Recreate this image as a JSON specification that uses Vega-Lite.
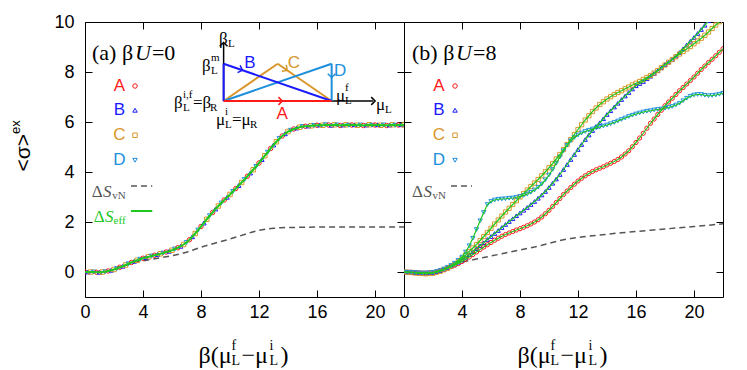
{
"$schema":"https://vega.github.io/schema/vega-lite/v6.json",
"background":"white",
"padding":{"left":9,"top":12,"right":5,"bottom":5},
"autosize":{"type":"pad"},
"bounds":"flush",
"spacing":0,
"datasets":{
"pa":[{"x":0,"s":"A","y":0},{"x":0.2,"s":"B","y":0},{"x":0.4,"s":"C","y":0},{"x":0.6,"s":"D","y":0},{"x":0.8,"s":"A","y":-0.01},{"x":1,"s":"B","y":-0.01},{"x":1.2,"s":"C","y":0},{"x":1.4,"s":"D","y":0.01},{"x":1.6,"s":"A","y":0.04},{"x":1.8,"s":"B","y":0.07},{"x":2,"s":"C","y":0.1},{"x":2.2,"s":"D","y":0.14},{"x":2.4,"s":"A","y":0.19},{"x":2.6,"s":"B","y":0.23},{"x":2.8,"s":"C","y":0.28},{"x":3,"s":"D","y":0.33},{"x":3.2,"s":"A","y":0.38},{"x":3.4,"s":"B","y":0.43},{"x":3.6,"s":"C","y":0.47},{"x":3.8,"s":"D","y":0.51},{"x":4,"s":"A","y":0.55},{"x":4.2,"s":"B","y":0.58},{"x":4.4,"s":"C","y":0.61},{"x":4.6,"s":"D","y":0.64},{"x":4.8,"s":"A","y":0.67},{"x":5,"s":"B","y":0.7},{"x":5.2,"s":"C","y":0.73},{"x":5.4,"s":"D","y":0.76},{"x":5.6,"s":"A","y":0.8},{"x":5.8,"s":"B","y":0.83},{"x":6,"s":"C","y":0.87},{"x":6.2,"s":"D","y":0.92},{"x":6.4,"s":"A","y":0.97},{"x":6.6,"s":"B","y":1.03},{"x":6.8,"s":"C","y":1.1},{"x":7,"s":"D","y":1.18},{"x":7.2,"s":"A","y":1.29},{"x":7.4,"s":"B","y":1.41},{"x":7.6,"s":"C","y":1.54},{"x":7.8,"s":"D","y":1.68},{"x":8,"s":"A","y":1.82},{"x":8.2,"s":"B","y":1.96},{"x":8.4,"s":"C","y":2.11},{"x":8.6,"s":"D","y":2.25},{"x":8.8,"s":"A","y":2.38},{"x":9,"s":"B","y":2.52},{"x":9.2,"s":"C","y":2.64},{"x":9.4,"s":"D","y":2.76},{"x":9.6,"s":"A","y":2.88},{"x":9.8,"s":"B","y":2.99},{"x":10,"s":"C","y":3.1},{"x":10.2,"s":"D","y":3.22},{"x":10.4,"s":"A","y":3.34},{"x":10.6,"s":"B","y":3.46},{"x":10.8,"s":"C","y":3.58},{"x":11,"s":"D","y":3.7},{"x":11.2,"s":"A","y":3.83},{"x":11.4,"s":"B","y":3.96},{"x":11.6,"s":"C","y":4.09},{"x":11.8,"s":"D","y":4.22},{"x":12,"s":"A","y":4.36},{"x":12.2,"s":"B","y":4.5},{"x":12.4,"s":"C","y":4.65},{"x":12.6,"s":"D","y":4.79},{"x":12.8,"s":"A","y":4.94},{"x":13,"s":"B","y":5.08},{"x":13.2,"s":"C","y":5.21},{"x":13.4,"s":"D","y":5.34},{"x":13.6,"s":"A","y":5.44},{"x":13.8,"s":"B","y":5.53},{"x":14,"s":"C","y":5.62},{"x":14.2,"s":"D","y":5.67},{"x":14.4,"s":"A","y":5.72},{"x":14.6,"s":"B","y":5.76},{"x":14.8,"s":"C","y":5.79},{"x":15,"s":"D","y":5.82},{"x":15.2,"s":"A","y":5.83},{"x":15.4,"s":"B","y":5.84},{"x":15.6,"s":"C","y":5.85},{"x":15.8,"s":"D","y":5.86},{"x":16,"s":"A","y":5.87},{"x":16.2,"s":"B","y":5.88},{"x":16.4,"s":"C","y":5.87},{"x":16.6,"s":"D","y":5.89},{"x":16.8,"s":"A","y":5.88},{"x":17,"s":"B","y":5.87},{"x":17.2,"s":"C","y":5.89},{"x":17.4,"s":"D","y":5.88},{"x":17.6,"s":"A","y":5.86},{"x":17.8,"s":"B","y":5.88},{"x":18,"s":"C","y":5.89},{"x":18.2,"s":"D","y":5.87},{"x":18.4,"s":"A","y":5.88},{"x":18.6,"s":"B","y":5.89},{"x":18.8,"s":"C","y":5.87},{"x":19,"s":"D","y":5.88},{"x":19.2,"s":"A","y":5.86},{"x":19.4,"s":"B","y":5.88},{"x":19.6,"s":"C","y":5.89},{"x":19.8,"s":"D","y":5.87},{"x":20,"s":"A","y":5.88},{"x":20.2,"s":"B","y":5.89},{"x":20.4,"s":"C","y":5.87},{"x":20.6,"s":"D","y":5.88},{"x":20.8,"s":"A","y":5.86},{"x":21,"s":"B","y":5.88},{"x":21.2,"s":"C","y":5.89},{"x":21.4,"s":"D","y":5.87},{"x":21.6,"s":"A","y":5.88},{"x":21.8,"s":"B","y":5.89},{"x":22,"s":"C","y":5.88}],
"va":[{"x":0,"y":0},{"x":0.5,"y":0},{"x":1,"y":0},{"x":1.5,"y":0.03},{"x":2,"y":0.1},{"x":2.5,"y":0.2},{"x":3,"y":0.3},{"x":3.5,"y":0.39},{"x":4,"y":0.45},{"x":4.5,"y":0.5},{"x":5,"y":0.55},{"x":5.5,"y":0.6},{"x":6,"y":0.65},{"x":6.5,"y":0.71},{"x":7,"y":0.79},{"x":7.5,"y":0.89},{"x":8,"y":0.99},{"x":8.5,"y":1.08},{"x":9,"y":1.16},{"x":9.5,"y":1.24},{"x":10,"y":1.32},{"x":10.5,"y":1.41},{"x":11,"y":1.5},{"x":11.5,"y":1.59},{"x":12,"y":1.67},{"x":12.5,"y":1.72},{"x":13,"y":1.75},{"x":13.5,"y":1.77},{"x":14,"y":1.78},{"x":15,"y":1.79},{"x":16,"y":1.8},{"x":18,"y":1.8},{"x":20,"y":1.8},{"x":22,"y":1.8}],
"vb":[{"x":0,"y":0},{"x":0.5,"y":0},{"x":1,"y":-0.02},{"x":1.5,"y":-0.02},{"x":2,"y":0.02},{"x":2.5,"y":0.1},{"x":3,"y":0.2},{"x":3.5,"y":0.3},{"x":4,"y":0.4},{"x":4.5,"y":0.46},{"x":5,"y":0.52},{"x":5.5,"y":0.58},{"x":6,"y":0.64},{"x":7,"y":0.76},{"x":8,"y":0.88},{"x":9,"y":1.0},{"x":9.5,"y":1.07},{"x":10,"y":1.15},{"x":10.5,"y":1.22},{"x":11,"y":1.29},{"x":11.5,"y":1.34},{"x":12,"y":1.38},{"x":13,"y":1.45},{"x":14,"y":1.51},{"x":15,"y":1.57},{"x":16,"y":1.62},{"x":17,"y":1.67},{"x":18,"y":1.72},{"x":19,"y":1.77},{"x":20,"y":1.82},{"x":21,"y":1.87},{"x":22,"y":1.93}],
"pb":[{"x":0,"A":0,"B":0,"C":0,"D":0},{"x":0.25,"A":-0.01,"B":-0.01,"C":-0.01,"D":-0.01},{"x":0.5,"A":-0.01,"B":-0.01,"C":-0.02,"D":-0.01},{"x":0.75,"A":-0.02,"B":-0.02,"C":-0.04,"D":-0.02},{"x":1,"A":-0.03,"B":-0.03,"C":-0.05,"D":-0.03},{"x":1.25,"A":-0.04,"B":-0.04,"C":-0.06,"D":-0.04},{"x":1.5,"A":-0.04,"B":-0.04,"C":-0.07,"D":-0.04},{"x":1.75,"A":-0.03,"B":-0.03,"C":-0.06,"D":-0.03},{"x":2,"A":-0.02,"B":-0.02,"C":-0.05,"D":-0.02},{"x":2.25,"A":0.01,"B":0.01,"C":-0.01,"D":0.02},{"x":2.5,"A":0.05,"B":0.05,"C":0.03,"D":0.06},{"x":2.75,"A":0.1,"B":0.1,"C":0.09,"D":0.12},{"x":3,"A":0.15,"B":0.16,"C":0.15,"D":0.18},{"x":3.25,"A":0.21,"B":0.23,"C":0.23,"D":0.26},{"x":3.5,"A":0.27,"B":0.3,"C":0.32,"D":0.35},{"x":3.75,"A":0.34,"B":0.39,"C":0.43,"D":0.47},{"x":4,"A":0.42,"B":0.48,"C":0.55,"D":0.6},{"x":4.25,"A":0.51,"B":0.59,"C":0.68,"D":0.8},{"x":4.5,"A":0.6,"B":0.7,"C":0.82,"D":1.05},{"x":4.75,"A":0.7,"B":0.81,"C":0.96,"D":1.35},{"x":5,"A":0.8,"B":0.93,"C":1.1,"D":1.7},{"x":5.25,"A":0.9,"B":1.05,"C":1.26,"D":2.05},{"x":5.5,"A":1.0,"B":1.17,"C":1.42,"D":2.38},{"x":5.75,"A":1.09,"B":1.3,"C":1.58,"D":2.7},{"x":6,"A":1.18,"B":1.42,"C":1.75,"D":2.82},{"x":6.25,"A":1.27,"B":1.54,"C":1.92,"D":2.88},{"x":6.5,"A":1.35,"B":1.66,"C":2.08,"D":2.91},{"x":6.75,"A":1.43,"B":1.78,"C":2.24,"D":2.92},{"x":7,"A":1.5,"B":1.9,"C":2.4,"D":2.93},{"x":7.25,"A":1.56,"B":2.02,"C":2.55,"D":2.95},{"x":7.5,"A":1.62,"B":2.13,"C":2.7,"D":2.96},{"x":7.75,"A":1.68,"B":2.25,"C":2.85,"D":2.99},{"x":8,"A":1.73,"B":2.36,"C":3.0,"D":3.02},{"x":8.25,"A":1.79,"B":2.47,"C":3.14,"D":3.06},{"x":8.5,"A":1.85,"B":2.58,"C":3.28,"D":3.12},{"x":8.75,"A":1.92,"B":2.7,"C":3.42,"D":3.19},{"x":9,"A":2.0,"B":2.82,"C":3.56,"D":3.28},{"x":9.25,"A":2.09,"B":2.95,"C":3.7,"D":3.39},{"x":9.5,"A":2.2,"B":3.08,"C":3.85,"D":3.52},{"x":9.75,"A":2.33,"B":3.22,"C":4.01,"D":3.69},{"x":10,"A":2.47,"B":3.38,"C":4.17,"D":3.88},{"x":10.25,"A":2.62,"B":3.55,"C":4.34,"D":4.1},{"x":10.5,"A":2.78,"B":3.72,"C":4.52,"D":4.35},{"x":10.75,"A":2.94,"B":3.9,"C":4.7,"D":4.6},{"x":11,"A":3.1,"B":4.1,"C":4.9,"D":4.85},{"x":11.25,"A":3.24,"B":4.3,"C":5.1,"D":5.07},{"x":11.5,"A":3.38,"B":4.5,"C":5.3,"D":5.25},{"x":11.75,"A":3.51,"B":4.7,"C":5.5,"D":5.38},{"x":12,"A":3.64,"B":4.9,"C":5.7,"D":5.48},{"x":12.25,"A":3.75,"B":5.1,"C":5.89,"D":5.56},{"x":12.5,"A":3.85,"B":5.3,"C":6.08,"D":5.62},{"x":12.75,"A":3.94,"B":5.48,"C":6.25,"D":5.67},{"x":13,"A":4.02,"B":5.66,"C":6.42,"D":5.72},{"x":13.25,"A":4.09,"B":5.82,"C":6.56,"D":5.76},{"x":13.5,"A":4.15,"B":5.97,"C":6.7,"D":5.8},{"x":13.75,"A":4.21,"B":6.13,"C":6.81,"D":5.84},{"x":14,"A":4.28,"B":6.3,"C":6.92,"D":5.88},{"x":14.25,"A":4.35,"B":6.45,"C":7.01,"D":5.93},{"x":14.5,"A":4.42,"B":6.6,"C":7.1,"D":5.98},{"x":14.75,"A":4.5,"B":6.75,"C":7.18,"D":6.04},{"x":15,"A":4.6,"B":6.9,"C":7.25,"D":6.1},{"x":15.25,"A":4.72,"B":7.04,"C":7.33,"D":6.16},{"x":15.5,"A":4.85,"B":7.18,"C":7.4,"D":6.22},{"x":15.75,"A":5.01,"B":7.32,"C":7.48,"D":6.27},{"x":16,"A":5.18,"B":7.45,"C":7.55,"D":6.32},{"x":16.25,"A":5.36,"B":7.54,"C":7.62,"D":6.36},{"x":16.5,"A":5.55,"B":7.62,"C":7.7,"D":6.4},{"x":16.75,"A":5.75,"B":7.73,"C":7.78,"D":6.43},{"x":17,"A":5.95,"B":7.83,"C":7.86,"D":6.45},{"x":17.25,"A":6.12,"B":7.94,"C":7.96,"D":6.48},{"x":17.5,"A":6.3,"B":8.05,"C":8.06,"D":6.5},{"x":17.75,"A":6.47,"B":8.17,"C":8.17,"D":6.52},{"x":18,"A":6.65,"B":8.3,"C":8.28,"D":6.55},{"x":18.25,"A":6.8,"B":8.4,"C":8.39,"D":6.58},{"x":18.5,"A":6.95,"B":8.5,"C":8.5,"D":6.62},{"x":18.75,"A":7.1,"B":8.64,"C":8.61,"D":6.68},{"x":19,"A":7.25,"B":8.78,"C":8.72,"D":6.75},{"x":19.25,"A":7.38,"B":8.93,"C":8.82,"D":6.85},{"x":19.5,"A":7.52,"B":9.08,"C":8.92,"D":6.95},{"x":19.75,"A":7.66,"B":9.23,"C":9.02,"D":7.03},{"x":20,"A":7.8,"B":9.38,"C":9.13,"D":7.08},{"x":20.25,"A":7.95,"B":9.54,"C":9.24,"D":7.1},{"x":20.5,"A":8.1,"B":9.7,"C":9.35,"D":7.1},{"x":20.75,"A":8.24,"B":9.87,"C":9.47,"D":7.07},{"x":21,"A":8.38,"B":10.05,"C":9.6,"D":7.05},{"x":21.25,"A":8.51,"B":null,"C":9.74,"D":7.06},{"x":21.5,"A":8.65,"B":null,"C":9.88,"D":7.08},{"x":21.75,"A":8.79,"B":null,"C":10.01,"D":7.11},{"x":22,"A":8.93,"B":null,"C":10.15,"D":7.15}]
},
"hconcat":[
{
"width":319,"height":275,
"data":{"values":[{}]},
"resolve":{"axis":{"x":"independent","y":"independent"}},
"layer":[
{"layer":[
{"data":{"name":"va"},"mark":{"type":"line","color":"#555555","strokeDash":[6,4],"strokeWidth":1.5,"clip":true},
 "encoding":{"x":{"field":"x","type":"quantitative","scale":{"domain":[0,22],"nice":false,"zero":false},"axis":{"orient":"bottom","values":[0,4,8,12,16,20],"title":null}},
 "y":{"field":"y","type":"quantitative","scale":{"domain":[-1,10],"nice":false,"zero":false},"axis":{"orient":"left","values":[0,2,4,6,8,10],"title":null}}}},
{"data":{"name":"pa"},"mark":{"type":"point","filled":false,"size":20,"strokeWidth":1,"opacity":1,"clip":true},
 "encoding":{"x":{"field":"x","type":"quantitative"},"y":{"field":"y","type":"quantitative"},
 "color":{"field":"s","type":"nominal","scale":{"domain":["A","B","C","D"],"range":["#ff1a1a","#1a1aff","#d9962b","#1e8fdb"]},"legend":null},
 "shape":{"field":"s","type":"nominal","scale":{"domain":["A","B","C","D"],"range":["circle","triangle-up","square","triangle-down"]},"legend":null}}},
{"data":{"name":"pa"},"mark":{"type":"line","color":"#1ec81e","strokeWidth":2,"clip":true},"encoding":{"x":{"field":"x","type":"quantitative"},"y":{"field":"y","type":"quantitative"}}},

{"mark":{"type":"rule","color":"black","strokeWidth":1.5},"encoding":{"x":{"datum":9.56},"y":{"datum":6.84},"y2":{"datum":9.12}}},
{"mark":{"type":"rule","color":"black","strokeWidth":1.5},"encoding":{"x":{"datum":9.56},"x2":{"datum":19.88},"y":{"datum":6.84}}},
{"mark":{"type":"rule","color":"#d9962b","strokeWidth":2},"encoding":{"x":{"datum":9.56},"y":{"datum":6.84},"x2":{"datum":13.29},"y2":{"datum":8.33}}},
{"mark":{"type":"rule","color":"#d9962b","strokeWidth":2},"encoding":{"x":{"datum":13.29},"y":{"datum":8.33},"x2":{"datum":17.01},"y2":{"datum":6.84}}},
{"mark":{"type":"rule","color":"#1e8fdb","strokeWidth":2},"encoding":{"x":{"datum":9.56},"y":{"datum":6.84},"x2":{"datum":17.01},"y2":{"datum":8.33}}},
{"mark":{"type":"rule","color":"#1e8fdb","strokeWidth":2},"encoding":{"x":{"datum":17.01},"y":{"datum":8.33},"y2":{"datum":6.84}}},
{"mark":{"type":"rule","color":"#1a1aff","strokeWidth":2},"encoding":{"x":{"datum":9.56},"y":{"datum":6.84},"y2":{"datum":8.33}}},
{"mark":{"type":"rule","color":"#1a1aff","strokeWidth":2},"encoding":{"x":{"datum":9.56},"y":{"datum":8.33},"x2":{"datum":17.01},"y2":{"datum":6.84}}},
{"mark":{"type":"rule","color":"#ff1a1a","strokeWidth":2},"encoding":{"x":{"datum":9.56},"x2":{"datum":17.01},"y":{"datum":6.84}}},
{"mark":{"type":"point","shape":"M-0.6,-1L0.4,0L-0.6,1","filled":false,"size":60,"strokeWidth":1.5,"color":"black","opacity":1,"angle":270},"encoding":{"x":{"datum":9.56},"y":{"datum":9.12}}},
{"mark":{"type":"point","shape":"M-0.6,-1L0.4,0L-0.6,1","filled":false,"size":60,"strokeWidth":1.5,"color":"black","opacity":1,"angle":0},"encoding":{"x":{"datum":19.9},"y":{"datum":6.84}}},
{"mark":{"type":"point","shape":"M-0.6,-1L0.4,0L-0.6,1","filled":false,"size":60,"strokeWidth":1.5,"color":"#ff1a1a","opacity":1,"angle":0},"encoding":{"x":{"datum":13.5},"y":{"datum":6.84}}},
{"mark":{"type":"point","shape":"M-0.6,-1L0.4,0L-0.6,1","filled":false,"size":60,"strokeWidth":1.5,"color":"#1a1aff","opacity":1,"angle":19},"encoding":{"x":{"datum":10.76},"y":{"datum":8.09}}},
{"mark":{"type":"point","shape":"M-0.6,-1L0.4,0L-0.6,1","filled":false,"size":60,"strokeWidth":1.5,"color":"#d9962b","opacity":1,"angle":35},"encoding":{"x":{"datum":13.86},"y":{"datum":8.1}}},
{"mark":{"type":"point","shape":"M-0.6,-1L0.4,0L-0.6,1","filled":false,"size":60,"strokeWidth":1.5,"color":"#1e8fdb","opacity":1,"angle":90},"encoding":{"x":{"datum":17.01},"y":{"datum":7.84}}},

{"mark":{"type":"text","text":"β","font":"Liberation Serif","fontSize":17,"align":"left","color":"black"},"encoding":{"x":{"datum":9.24},"y":{"datum":9.32}}},
{"mark":{"type":"text","text":"L","font":"Liberation Serif","fontSize":11,"align":"left","dx":9,"dy":5,"color":"black"},"encoding":{"x":{"datum":9.24},"y":{"datum":9.32}}},
{"mark":{"type":"text","text":"β","font":"Liberation Serif","fontSize":17,"align":"left","color":"black"},"encoding":{"x":{"datum":8.07},"y":{"datum":8.24}}},
{"mark":{"type":"text","text":"m","font":"Liberation Serif","fontSize":11,"align":"left","dx":9,"dy":-8,"color":"black"},"encoding":{"x":{"datum":8.07},"y":{"datum":8.24}}},
{"mark":{"type":"text","text":"L","font":"Liberation Serif","fontSize":11,"align":"left","dx":9,"dy":5,"color":"black"},"encoding":{"x":{"datum":8.07},"y":{"datum":8.24}}},
{"mark":{"type":"text","text":"β","font":"Liberation Serif","fontSize":17,"align":"left","color":"black"},"encoding":{"x":{"datum":6.14},"y":{"datum":6.78}}},
{"mark":{"type":"text","text":"i,f","font":"Liberation Serif","fontSize":11,"align":"left","dx":9,"dy":-8,"color":"black"},"encoding":{"x":{"datum":6.14},"y":{"datum":6.78}}},
{"mark":{"type":"text","text":"L","font":"Liberation Serif","fontSize":11,"align":"left","dx":9,"dy":5,"color":"black"},"encoding":{"x":{"datum":6.14},"y":{"datum":6.78}}},
{"mark":{"type":"text","text":"=β","font":"Liberation Serif","fontSize":17,"align":"left","dx":19,"color":"black"},"encoding":{"x":{"datum":6.14},"y":{"datum":6.78}}},
{"mark":{"type":"text","text":"R","font":"Liberation Serif","fontSize":11,"align":"left","dx":36,"dy":5,"color":"black"},"encoding":{"x":{"datum":6.14},"y":{"datum":6.78}}},
{"mark":{"type":"text","text":"μ","font":"Liberation Serif","fontSize":17,"align":"left","color":"black"},"encoding":{"x":{"datum":9.03},"y":{"datum":6.08}}},
{"mark":{"type":"text","text":"i","font":"Liberation Serif","fontSize":11,"align":"left","dx":9,"dy":-8,"color":"black"},"encoding":{"x":{"datum":9.03},"y":{"datum":6.08}}},
{"mark":{"type":"text","text":"L","font":"Liberation Serif","fontSize":11,"align":"left","dx":9,"dy":5,"color":"black"},"encoding":{"x":{"datum":9.03},"y":{"datum":6.08}}},
{"mark":{"type":"text","text":"=μ","font":"Liberation Serif","fontSize":17,"align":"left","dx":16,"color":"black"},"encoding":{"x":{"datum":9.03},"y":{"datum":6.08}}},
{"mark":{"type":"text","text":"R","font":"Liberation Serif","fontSize":11,"align":"left","dx":34,"dy":5,"color":"black"},"encoding":{"x":{"datum":9.03},"y":{"datum":6.08}}},
{"mark":{"type":"text","text":"μ","font":"Liberation Serif","fontSize":17,"align":"left","color":"black"},"encoding":{"x":{"datum":17.31},"y":{"datum":7.04}}},
{"mark":{"type":"text","text":"f","font":"Liberation Serif","fontSize":11,"align":"left","dx":9,"dy":-8,"color":"black"},"encoding":{"x":{"datum":17.31},"y":{"datum":7.04}}},
{"mark":{"type":"text","text":"L","font":"Liberation Serif","fontSize":11,"align":"left","dx":9,"dy":5,"color":"black"},"encoding":{"x":{"datum":17.31},"y":{"datum":7.04}}},
{"mark":{"type":"text","text":"μ","font":"Liberation Serif","fontSize":17,"align":"left","color":"black"},"encoding":{"x":{"datum":20.07},"y":{"datum":6.68}}},
{"mark":{"type":"text","text":"L","font":"Liberation Serif","fontSize":11,"align":"left","dx":9,"dy":5,"color":"black"},"encoding":{"x":{"datum":20.07},"y":{"datum":6.68}}},
{"mark":{"type":"text","text":"A","font":"Liberation Sans","fontSize":17,"align":"center","baseline":"middle","color":"#ff1a1a"},"encoding":{"x":{"datum":13.59},"y":{"datum":6.34}}},
{"mark":{"type":"text","text":"B","font":"Liberation Sans","fontSize":17,"align":"center","baseline":"middle","color":"#1a1aff"},"encoding":{"x":{"datum":11.38},"y":{"datum":8.38}}},
{"mark":{"type":"text","text":"C","font":"Liberation Sans","fontSize":17,"align":"center","baseline":"middle","color":"#d9962b"},"encoding":{"x":{"datum":14.41},"y":{"datum":8.36}}},
{"mark":{"type":"text","text":"D","font":"Liberation Sans","fontSize":17,"align":"center","baseline":"middle","color":"#1e8fdb"},"encoding":{"x":{"datum":17.59},"y":{"datum":8.06}}},

{"mark":{"type":"text","text":"A","font":"Liberation Sans","fontSize":17,"align":"center","baseline":"middle","color":"#ff1a1a"},"encoding":{"x":{"datum":2.38},"y":{"datum":7.44}}},
{"mark":{"type":"point","shape":"circle","filled":false,"size":20,"strokeWidth":1,"color":"#ff1a1a","opacity":1},"encoding":{"x":{"datum":3.45},"y":{"datum":7.44}}},
{"mark":{"type":"text","text":"B","font":"Liberation Sans","fontSize":17,"align":"center","baseline":"middle","color":"#1a1aff"},"encoding":{"x":{"datum":2.38},"y":{"datum":6.47}}},
{"mark":{"type":"point","shape":"triangle-up","filled":false,"size":20,"strokeWidth":1,"color":"#1a1aff","opacity":1},"encoding":{"x":{"datum":3.45},"y":{"datum":6.47}}},
{"mark":{"type":"text","text":"C","font":"Liberation Sans","fontSize":17,"align":"center","baseline":"middle","color":"#d9962b"},"encoding":{"x":{"datum":2.38},"y":{"datum":5.47}}},
{"mark":{"type":"point","shape":"square","filled":false,"size":20,"strokeWidth":1,"color":"#d9962b","opacity":1},"encoding":{"x":{"datum":3.45},"y":{"datum":5.47}}},
{"mark":{"type":"text","text":"D","font":"Liberation Sans","fontSize":17,"align":"center","baseline":"middle","color":"#1e8fdb"},"encoding":{"x":{"datum":2.38},"y":{"datum":4.47}}},
{"mark":{"type":"point","shape":"triangle-down","filled":false,"size":20,"strokeWidth":1,"color":"#1e8fdb","opacity":1},"encoding":{"x":{"datum":3.45},"y":{"datum":4.47}}},
{"mark":{"type":"text","text":"vN","font":"Liberation Serif","fontSize":11,"align":"right","dy":4,"color":"#555555"},"encoding":{"x":{"datum":2.8},"y":{"datum":3.2}}},
{"mark":{"type":"text","text":"S","font":"Liberation Serif","fontStyle":"italic","fontSize":17,"align":"right","dx":-14,"color":"#555555"},"encoding":{"x":{"datum":2.8},"y":{"datum":3.2}}},
{"mark":{"type":"text","text":"Δ","font":"Liberation Serif","fontSize":17,"align":"right","dx":-23,"color":"#555555"},"encoding":{"x":{"datum":2.8},"y":{"datum":3.2}}},
{"mark":{"type":"rule","color":"#555555","strokeDash":[6,4],"strokeWidth":1.5},"encoding":{"x":{"datum":3.17},"x2":{"datum":4.64},"y":{"datum":3.44}}},
{"mark":{"type":"text","text":"eff","font":"Liberation Serif","fontSize":11,"align":"right","dy":4,"color":"#1ec81e"},"encoding":{"x":{"datum":2.8},"y":{"datum":2.2}}},
{"mark":{"type":"text","text":"S","font":"Liberation Serif","fontStyle":"italic","fontSize":17,"align":"right","dx":-12,"color":"#1ec81e"},"encoding":{"x":{"datum":2.8},"y":{"datum":2.2}}},
{"mark":{"type":"text","text":"Δ","font":"Liberation Serif","fontSize":17,"align":"right","dx":-21,"color":"#1ec81e"},"encoding":{"x":{"datum":2.8},"y":{"datum":2.2}}},
{"mark":{"type":"rule","color":"#1ec81e","strokeWidth":2},"encoding":{"x":{"datum":3.17},"x2":{"datum":4.64},"y":{"datum":2.44}}},

{"mark":{"type":"text","text":"(a) β","font":"Liberation Serif","fontSize":22,"align":"left","color":"black"},"encoding":{"x":{"datum":0.48},"y":{"datum":8.76}}},
{"mark":{"type":"text","text":"U","font":"Liberation Serif","fontStyle":"italic","fontSize":22,"align":"left","dx":43,"color":"black"},"encoding":{"x":{"datum":0.48},"y":{"datum":8.76}}},
{"mark":{"type":"text","text":"=0","font":"Liberation Serif","fontSize":22,"align":"left","dx":60,"color":"black"},"encoding":{"x":{"datum":0.48},"y":{"datum":8.76}}},

{"mark":{"type":"text","text":"β(μ","font":"Liberation Serif","fontSize":24,"align":"left","dx":-46,"color":"black"},"encoding":{"x":{"datum":11},"y":{"datum":-3.36}}},
{"mark":{"type":"text","text":"f","font":"Liberation Serif","fontSize":14,"align":"left","dx":-13,"dy":-10,"color":"black"},"encoding":{"x":{"datum":11},"y":{"datum":-3.36}}},
{"mark":{"type":"text","text":"L","font":"Liberation Serif","fontSize":14,"align":"left","dx":-13,"dy":5,"color":"black"},"encoding":{"x":{"datum":11},"y":{"datum":-3.36}}},
{"mark":{"type":"text","text":"−μ","font":"Liberation Serif","fontSize":24,"align":"left","dx":-3,"color":"black"},"encoding":{"x":{"datum":11},"y":{"datum":-3.36}}},
{"mark":{"type":"text","text":"i","font":"Liberation Serif","fontSize":14,"align":"left","dx":25,"dy":-10,"color":"black"},"encoding":{"x":{"datum":11},"y":{"datum":-3.36}}},
{"mark":{"type":"text","text":"L","font":"Liberation Serif","fontSize":14,"align":"left","dx":25,"dy":5,"color":"black"},"encoding":{"x":{"datum":11},"y":{"datum":-3.36}}},
{"mark":{"type":"text","text":")","font":"Liberation Serif","fontSize":24,"align":"left","dx":36,"color":"black"},"encoding":{"x":{"datum":11},"y":{"datum":-3.36}}},

{"mark":{"type":"text","text":"<σ>","font":"Liberation Sans","fontSize":21,"align":"right","baseline":"middle","angle":270,"color":"black"},"encoding":{"x":{"datum":-4.21},"y":{"datum":5.52}}},
{"mark":{"type":"text","text":"ex","font":"Liberation Sans","fontSize":13,"align":"left","baseline":"middle","angle":270,"dy":-8,"color":"black"},"encoding":{"x":{"datum":-4.21},"y":{"datum":5.52}}}
]},
{"mark":{"type":"point","opacity":0},"encoding":{"x":{"datum":0,"type":"quantitative","axis":{"orient":"top","values":[0,4,8,12,16,20],"labels":false,"title":null}},"y":{"datum":0,"type":"quantitative","axis":{"orient":"right","values":[0,2,4,6,8,10],"labels":false,"title":null}}}}
]
},
{
"width":319,"height":275,
"data":{"values":[{}]},
"resolve":{"axis":{"x":"independent","y":"independent"}},
"layer":[
{"layer":[
{"data":{"name":"vb"},"mark":{"type":"line","color":"#555555","strokeDash":[6,4],"strokeWidth":1.5,"clip":true},
 "encoding":{"x":{"field":"x","type":"quantitative","scale":{"domain":[0,22],"nice":false,"zero":false},"axis":{"orient":"bottom","values":[0,4,8,12,16,20],"title":null}},
 "y":{"field":"y","type":"quantitative","scale":{"domain":[-1,10],"nice":false,"zero":false},"axis":{"orient":"left","values":[0,2,4,6,8,10],"labels":false,"title":null}}}},
{"data":{"name":"pb"},"transform":[{"fold":["A","B","C","D"],"as":["s","y"]},{"filter":"isValid(datum.y)"}],"mark":{"type":"point","filled":false,"size":18,"strokeWidth":1,"opacity":1,"clip":true},
 "encoding":{"x":{"field":"x","type":"quantitative"},"y":{"field":"y","type":"quantitative"},
 "color":{"field":"s","type":"nominal","scale":{"domain":["A","B","C","D"],"range":["#ff1a1a","#1a1aff","#d9962b","#1e8fdb"]},"legend":null},
 "shape":{"field":"s","type":"nominal","scale":{"domain":["A","B","C","D"],"range":["circle","triangle-up","square","triangle-down"]},"legend":null}}},
{"data":{"name":"pb"},"transform":[{"fold":["A","B","C","D"],"as":["s","y"]},{"filter":"isValid(datum.y)"}],"mark":{"type":"line","color":"#1ec81e","strokeWidth":1.2,"clip":true},"encoding":{"x":{"field":"x","type":"quantitative"},"y":{"field":"y","type":"quantitative"},"detail":{"field":"s","type":"nominal"}}},

{"mark":{"type":"text","text":"A","font":"Liberation Sans","fontSize":17,"align":"center","baseline":"middle","color":"#ff1a1a"},"encoding":{"x":{"datum":2.41},"y":{"datum":7.44}}},
{"mark":{"type":"point","shape":"circle","filled":false,"size":20,"strokeWidth":1,"color":"#ff1a1a","opacity":1},"encoding":{"x":{"datum":3.52},"y":{"datum":7.44}}},
{"mark":{"type":"text","text":"B","font":"Liberation Sans","fontSize":17,"align":"center","baseline":"middle","color":"#1a1aff"},"encoding":{"x":{"datum":2.41},"y":{"datum":6.47}}},
{"mark":{"type":"point","shape":"triangle-up","filled":false,"size":20,"strokeWidth":1,"color":"#1a1aff","opacity":1},"encoding":{"x":{"datum":3.52},"y":{"datum":6.47}}},
{"mark":{"type":"text","text":"C","font":"Liberation Sans","fontSize":17,"align":"center","baseline":"middle","color":"#d9962b"},"encoding":{"x":{"datum":2.41},"y":{"datum":5.47}}},
{"mark":{"type":"point","shape":"square","filled":false,"size":20,"strokeWidth":1,"color":"#d9962b","opacity":1},"encoding":{"x":{"datum":3.52},"y":{"datum":5.47}}},
{"mark":{"type":"text","text":"D","font":"Liberation Sans","fontSize":17,"align":"center","baseline":"middle","color":"#1e8fdb"},"encoding":{"x":{"datum":2.41},"y":{"datum":4.47}}},
{"mark":{"type":"point","shape":"triangle-down","filled":false,"size":20,"strokeWidth":1,"color":"#1e8fdb","opacity":1},"encoding":{"x":{"datum":3.52},"y":{"datum":4.47}}},
{"mark":{"type":"text","text":"vN","font":"Liberation Serif","fontSize":11,"align":"right","dy":4,"color":"#555555"},"encoding":{"x":{"datum":2.9},"y":{"datum":3.2}}},
{"mark":{"type":"text","text":"S","font":"Liberation Serif","fontStyle":"italic","fontSize":17,"align":"right","dx":-14,"color":"#555555"},"encoding":{"x":{"datum":2.9},"y":{"datum":3.2}}},
{"mark":{"type":"text","text":"Δ","font":"Liberation Serif","fontSize":17,"align":"right","dx":-23,"color":"#555555"},"encoding":{"x":{"datum":2.9},"y":{"datum":3.2}}},
{"mark":{"type":"rule","color":"#555555","strokeDash":[6,4],"strokeWidth":1.5},"encoding":{"x":{"datum":3.24},"x2":{"datum":4.69},"y":{"datum":3.44}}},

{"mark":{"type":"text","text":"(b) β","font":"Liberation Serif","fontSize":22,"align":"left","color":"black"},"encoding":{"x":{"datum":0.55},"y":{"datum":8.76}}},
{"mark":{"type":"text","text":"U","font":"Liberation Serif","fontStyle":"italic","fontSize":22,"align":"left","dx":44,"color":"black"},"encoding":{"x":{"datum":0.55},"y":{"datum":8.76}}},
{"mark":{"type":"text","text":"=8","font":"Liberation Serif","fontSize":22,"align":"left","dx":61,"color":"black"},"encoding":{"x":{"datum":0.55},"y":{"datum":8.76}}},

{"mark":{"type":"text","text":"β(μ","font":"Liberation Serif","fontSize":24,"align":"left","dx":-46,"color":"black"},"encoding":{"x":{"datum":11},"y":{"datum":-3.36}}},
{"mark":{"type":"text","text":"f","font":"Liberation Serif","fontSize":14,"align":"left","dx":-13,"dy":-10,"color":"black"},"encoding":{"x":{"datum":11},"y":{"datum":-3.36}}},
{"mark":{"type":"text","text":"L","font":"Liberation Serif","fontSize":14,"align":"left","dx":-13,"dy":5,"color":"black"},"encoding":{"x":{"datum":11},"y":{"datum":-3.36}}},
{"mark":{"type":"text","text":"−μ","font":"Liberation Serif","fontSize":24,"align":"left","dx":-3,"color":"black"},"encoding":{"x":{"datum":11},"y":{"datum":-3.36}}},
{"mark":{"type":"text","text":"i","font":"Liberation Serif","fontSize":14,"align":"left","dx":25,"dy":-10,"color":"black"},"encoding":{"x":{"datum":11},"y":{"datum":-3.36}}},
{"mark":{"type":"text","text":"L","font":"Liberation Serif","fontSize":14,"align":"left","dx":25,"dy":5,"color":"black"},"encoding":{"x":{"datum":11},"y":{"datum":-3.36}}},
{"mark":{"type":"text","text":")","font":"Liberation Serif","fontSize":24,"align":"left","dx":36,"color":"black"},"encoding":{"x":{"datum":11},"y":{"datum":-3.36}}}
]},
{"mark":{"type":"point","opacity":0},"encoding":{"x":{"datum":0,"type":"quantitative","axis":{"orient":"top","values":[0,4,8,12,16,20],"labels":false,"title":null}},"y":{"datum":0,"type":"quantitative","axis":{"orient":"right","values":[0,2,4,6,8,10],"labels":false,"title":null}}}}
]
}
],
"config":{
"view":{"stroke":"black","strokeWidth":1},
"axis":{"grid":false,"domain":false,"ticks":true,"tickColor":"black","tickSize":-7,"tickWidth":1,"labelFont":"Liberation Sans","labelFontSize":18,"labelColor":"black","labelFlush":false},
"axisX":{"labelPadding":13},
"axisY":{"labelPadding":18}
}
}
